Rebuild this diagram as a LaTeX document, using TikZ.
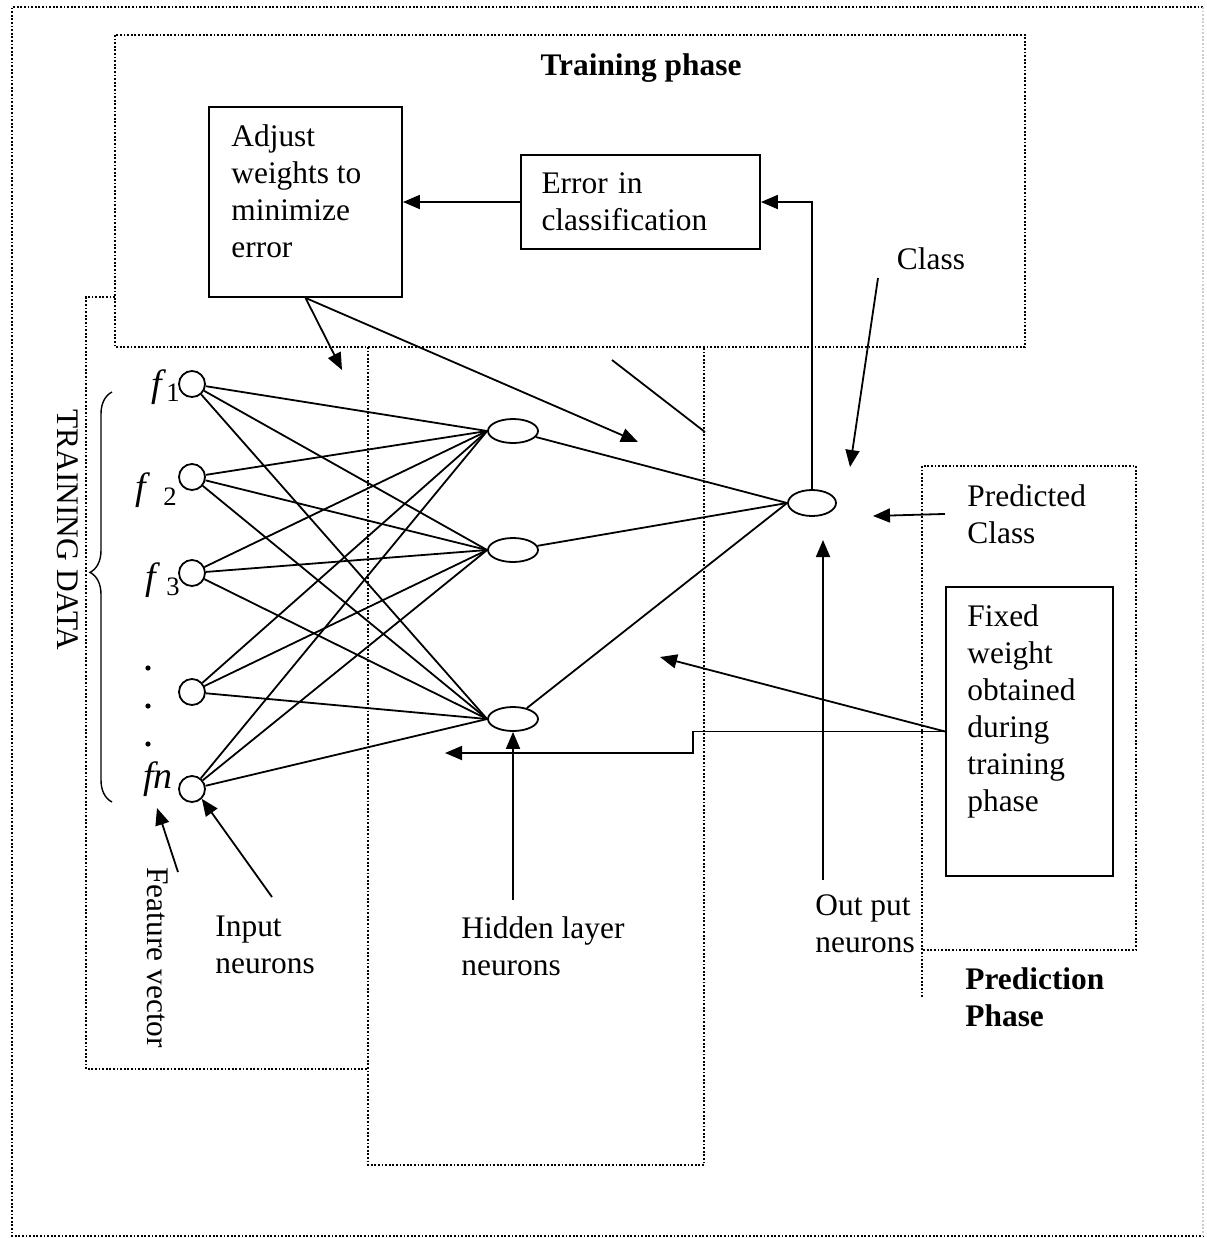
\documentclass[tikz,border=0pt]{standalone}
\usepackage{fontspec}
\setmainfont{Liberation Serif}
\usetikzlibrary{arrows.meta,shapes.geometric,decorations.pathreplacing}

\begin{document}
\begin{tikzpicture}[
  x=0.5pt, y=-0.5pt,
  procbox/.style={rectangle, draw, line width=0.9pt, inner sep=0pt},
  txt/.style={font=\fontsize{15.7pt}{18.5pt}\selectfont, align=left, inner sep=0pt},
  boldtxt/.style={txt, font=\fontsize{15.7pt}{18.5pt}\selectfont\bfseries},
  flbl/.style={inner sep=0pt, font=\fontsize{19pt}{20pt}\selectfont},
  inneuron/.style={circle, draw, line width=0.9pt, minimum size=13pt, inner sep=0pt},
  hidneuron/.style={ellipse, draw, line width=0.9pt, minimum width=25pt,
    minimum height=12pt, inner sep=0pt},
  link/.style={line width=0.9pt},
  arr/.style={-{Triangle[length=8.5pt,width=7pt]}, line width=0.9pt},
  zone/.style={line width=1.2pt, dash pattern=on 0.9pt off 0.9pt},
]

% canvas size of the scan
\useasboundingbox (0,0) rectangle (1206,1238);

% Horizontal positions of the layers
\def\xin{192}
\def\xhid{513}
\def\xout{812}

% ============================================================
% Dotted zones
% ============================================================
\draw[zone] (1203,7) -- (12,7) -- (12,1236) -- (1203,1236);
\draw[zone, draw=black!20] (1203,7) -- (1203,1236);
\draw[zone] (115,35) rectangle (1025,347);
\draw[zone] (115,297) -- (86,297) -- (86,1069) -- (368,1069);
\draw[zone] (368,347) -- (368,1165) -- (704,1165) -- (704,347);
\draw[zone] (922,997) -- (922,466) -- (1136,466) -- (1136,950) -- (922,950);

% ============================================================
% Training phase
% ============================================================
\node[boldtxt] (trainttl) at (641,68) {Training phase};

\node[procbox, minimum width=96.5pt, minimum height=95pt] (adj) at (305.5,202) {};
\node[txt, anchor=north west] (adjtxt) at (231,124)
  {Adjust\\weights to\\minimize\\error};
\node[procbox, minimum width=119.5pt, minimum height=47pt, txt, text width=99pt]
  (err) at (640.5,202) {Error in\\classification};

\draw[arr] (err.west) -- (adj.east);

\coordinate (adjtip1) at (342,370);
\coordinate (adjtip2) at (638,442);
\draw[arr] (adj.south) -- (adjtip1);
\draw[arr] (adj.south) -- (adjtip2);

\coordinate (cuta) at (612,360);
\coordinate (cutb) at (705,432);
\draw[link] (cuta) -- (cutb);

% ============================================================
% Network
% ============================================================
\foreach \i/\y in {1/384, 2/477, 3/573, 4/692, 5/789}
  \node[inneuron] (in\i) at (\xin,\y) {};

\foreach \j/\y in {1/431, 2/550, 3/719}
  \node[hidneuron] (hid\j) at (\xhid,\y) {};

\node[hidneuron, minimum width=24pt, minimum height=13pt] (out) at (\xout,503) {};

\foreach \i in {1,...,5}
  \foreach \j in {1,2,3}
    \draw[link] (in\i) -- (hid\j.west);

\foreach \j in {1,2,3}
  \draw[link] (hid\j) -- (out.west);

\draw[arr] (out.north) |- (err.east);

% feature labels
\node[flbl, anchor=east] (lf1) at (181,387) {\textit{f}\textsubscript{1}};
\node[flbl, anchor=east] (lf2) at (178,490) {\textit{f}\,\,\textsubscript{2}};
\node[flbl, anchor=east] (lf3) at (181,580) {\textit{f}\,\textsubscript{3}};
\node[flbl, anchor=east] (lfn) at (173,779) {\textit{fn}};

\foreach \y in {668,706,744}
  \fill (148,\y) circle (1.3pt);

\draw[line width=0.7pt, decorate, decoration={brace, amplitude=11pt, aspect=0.56}]
  (112,802) -- (112,392);

\node[txt, rotate=-90] (datalbl) at (68,530) {TRAINING DATA};

% ============================================================
% Labels below
% ============================================================
\node[txt, rotate=-90, anchor=west] (featlbl) at (158,867) {Feature vector};
\node[txt, anchor=north west] (inlbl) at (215,916) {Input\\neurons};
\node[txt, anchor=north west] (hidlbl) at (461,916) {Hidden layer\\neurons};
\node[txt, anchor=north west] (outlbl) at (815,894) {Out put\\neurons};

\coordinate (feattail) at (178,872);
\coordinate (feattip) at (157,808);
\coordinate (intail) at (272,897);
\coordinate (hidtail) at (\xhid,900);
\coordinate (outtail) at (823,880);
\coordinate (outtip) at (823,540);

\draw[arr] (feattail) -- (feattip);
\draw[arr] (intail) -- (in5.south east);
\draw[arr] (hidtail) -- (hid3.south);
\draw[arr] (outtail) -- (outtip);

% ============================================================
% Prediction phase
% ============================================================
\node[txt] (classlbl) at (931,259) {Class};
\coordinate (classtail) at (878,278);
\coordinate (classtip) at (850,467);
\draw[arr] (classtail) -- (classtip);

\node[txt, anchor=north west] (pred) at (967,484) {Predicted\\Class};
\coordinate (predtip) at (873,516);
\draw[arr] ([xshift=-11pt]pred.west) -- (predtip);

\node[procbox, minimum width=83.5pt, minimum height=144.5pt] (fixed) at (1029.5,731.5) {};
\node[txt, anchor=north west] (fixedtxt) at (967,604)
  {Fixed\\weight\\obtained\\during\\training\\phase};

\coordinate (fwtip1) at (660,657);
\coordinate (fwstep) at (693,753);
\coordinate (fwtip2) at (445,753);
\draw[arr] (fixed.west) -- (fwtip1);
\draw[arr] (fixed.west) -| (fwstep) -- (fwtip2);

\node[boldtxt, anchor=north west] (predttl) at (965,967) {Prediction\\Phase};

\end{tikzpicture}
\end{document}
